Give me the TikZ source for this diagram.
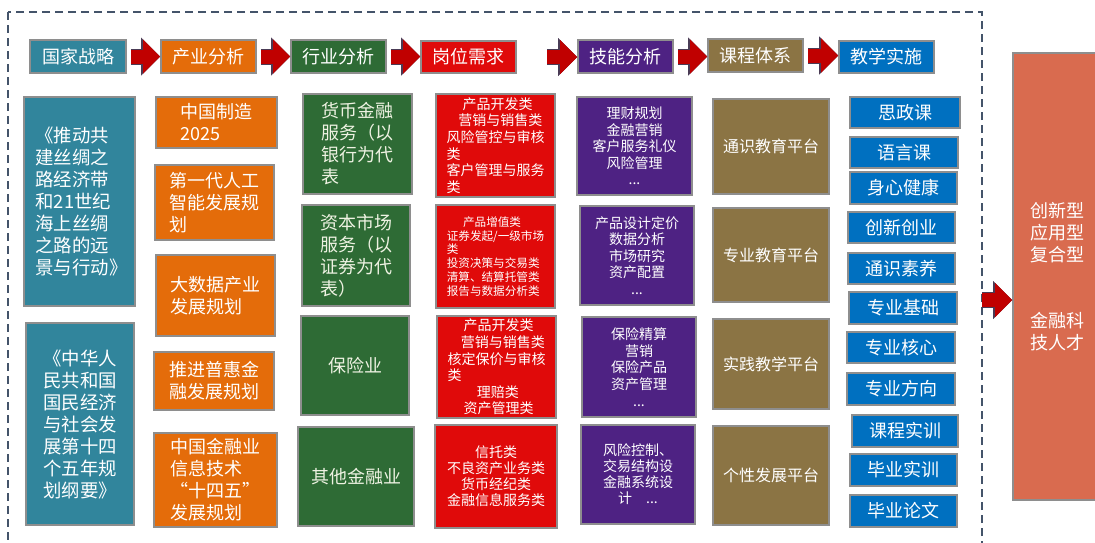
\documentclass[tikz,border=0pt]{standalone}
\usepackage{fontspec}
\setmainfont{Noto Sans CJK SC}
\usepackage{xcolor}
\usetikzlibrary{arrows.meta}

\definecolor{strategyteal}{HTML}{31859C}
\definecolor{industryorange}{HTML}{E46C0A}
\definecolor{sectorgreen}{HTML}{2E6B35}
\definecolor{jobred}{HTML}{E00A0A}
\definecolor{skillpurple}{HTML}{4E2283}
\definecolor{coursebrown}{HTML}{8B7444}
\definecolor{teachblue}{HTML}{0070C0}
\definecolor{talentsalmon}{HTML}{D96B4F}
\definecolor{flowred}{HTML}{C00000}
\definecolor{flowedge}{HTML}{4A3B55}
\definecolor{framenavy}{HTML}{44546A}
\definecolor{cellgray}{HTML}{8E8E8E}
\definecolor{cream}{HTML}{EEF2E2}

\tikzset{
  cell/.style={draw=cellgray, line width=1pt, inner sep=0pt, text=white, align=center,
    font=\fontsize{9}{11}\selectfont},
  small/.style={font=\fontsize{7}{8.3}\selectfont},
  % box given by its corners, in picture units
  span/.code args={#1,#2,#3,#4}{%
    \pgfmathsetmacro\spanw{(#3-#1)*0.5}%
    \pgfmathsetmacro\spanh{(#4-#2)*0.5}%
    \edef\spannext{\noexpand\pgfkeysalso{minimum width=\spanw pt, minimum height=\spanh pt}}%
    \spannext
    \pgfkeysalso{at={({(#1+#3)/2},{(#2+#4)/2})}}},
  flow/.style={flowred, line width=7pt,
    -{Triangle[length=8.5pt,width=17pt,line width=0.01pt]},
    preaction={draw=flowedge, line width=8pt, -{Triangle[length=9.5pt,width=19pt,line width=0.01pt]}}}
}

\begin{document}
\begin{tikzpicture}[x=0.5pt,y=-0.5pt]
\useasboundingbox (0,0) rectangle (1095,542);
\clip (0,0) rectangle (1095,542);
% outer dashed frame
\draw[framenavy, line width=0.75pt, dash pattern=on 4pt off 2.5pt] (8,12) rectangle (982,580);
\coordinate (frameR) at (982,300);

% header row
\node[cell, fill=strategyteal, span={30,40,126,73}] (hStrategy) {国家战略};
\node[cell, fill=industryorange, span={161,40,256,73}] (hIndustry) {产业分析};
\node[cell, fill=sectorgreen, span={291,40,386,73}] (hSector) {行业分析};
\node[cell, fill=jobred, span={421,41,516,73}] (hJob) {岗位需求};
\node[cell, fill=skillpurple, span={578,40,673,73}] (hSkill) {技能分析};
\node[cell, fill=coursebrown, span={708,39,803,72}] (hCourse) {课程体系};
\node[cell, fill=teachblue, span={839,41,934,73}] (hTeach) {教学实施};

\draw[flow, shorten <=2pt] (hStrategy.east) -- (hStrategy.east -| hIndustry.west);
\draw[flow, shorten <=2pt] (hIndustry.east) -- (hIndustry.east -| hSector.west);
\draw[flow, shorten <=2pt] (hSector.east) -- (hSector.east -| hJob.west);
\draw[flow, shorten <=15pt] (hJob.east) -- (hJob.east -| hSkill.west);
\draw[flow, shorten <=2pt] (hSkill.east) -- (hSkill.east -| hCourse.west);
\draw[flow, shorten <=2pt] (hCourse.east) -- (hCourse.east -| hTeach.west);

% national strategy
\node[cell, fill=strategyteal, align=left, text width=44pt, font=\fontsize{9.2}{11}\selectfont,
  span={24,97,135,306}] (s1) {《推动共\\建丝绸之\\路经济带\\和21世纪\\海上丝绸\\之路的远\\景与行动》};
\node[cell, fill=strategyteal, align=left, font=\fontsize{9.2}{11}\selectfont,
  span={26,323,134,525}] (s2) {《中华人\\民共和国\\国民经济\\与社会发\\展第十四\\个五年规\\划纲要》};

% industry plans
\node[cell, fill=industryorange, align=left, span={156,97,277,148}] (i1) {中国制造\\2025};
\node[cell, fill=industryorange, align=left, span={155,165,274,240}] (i2) {第一代人工\\智能发展规\\划};
\node[cell, fill=industryorange, align=left, span={156,255,275,336}] (i3) {大数据产业\\发展规划};
\node[cell, fill=industryorange, align=left, span={154,352,274,410}] (i4) {推进普惠金\\融发展规划};
\node[cell, fill=industryorange, align=left, span={154,433,277,527}] (i5)
  {中国金融业\\信息技术\\\makebox[1em][r]{“}十四五\makebox[1em][l]{”}\\发展规划};

% sectors
\node[cell, fill=sectorgreen, text=cream, align=left, span={303,94,412,194}] (c1) {货币金融\\服务（以\\银行为代\\表};
\node[cell, fill=sectorgreen, text=cream, align=left, span={302,205,410,306}] (c2) {资本市场\\服务（以\\证券为代\\表）};
\node[cell, fill=sectorgreen, text=cream, span={301,316,409,415}] (c3) {保险业};
\node[cell, fill=sectorgreen, text=cream, span={298,427,414,526}] (c4) {其他金融业};

% job requirements
\node[cell, small, fill=jobred, align=left, span={436,94,555,197}] (j1)
  {\hspace*{1.15em}产品开发类\\\hspace*{0.85em}营销与销售类\\风险管控与审核\\类\\客户管理与服务\\类};
\node[cell, fill=jobred, align=left, font=\fontsize{5.8}{6.9}\selectfont, span={436,205,555,308}] (j2)
  {\hspace*{1.4em}产品增值类\\证券发起/一级市场\\类\\投资决策与交易类\\清算、结算托管类\\报告与数据分析类};
\node[cell, small, fill=jobred, align=left, span={437,316,556,418}] (j3)
  {\hspace*{1.15em}产品开发类\\\hspace*{0.95em}营销与销售类\\核定保价与审核\\类\\\hspace*{2.1em}理赔类\\\hspace*{1.15em}资产管理类};
\node[cell, fill=jobred, font=\fontsize{7}{8}\selectfont, span={435,425,557,528}] (j4)
  {信托类\\不良资产业务类\\货币经纪类\\金融信息服务类};

% skills
\node[cell, small, fill=skillpurple, span={577,97,692,195}] (k1) {理财规划\\金融营销\\客户服务礼仪\\风险管理\\...};
\node[cell, small, fill=skillpurple, span={580,206,694,305}] (k2) {产品设计定价\\数据分析\\市场研究\\资产配置\\...};
\node[cell, small, fill=skillpurple, span={582,317,696,417}] (k3) {保险精算\\营销\\保险产品\\资产管理\\...};
\node[cell, fill=skillpurple, font=\fontsize{7}{8}\selectfont, span={581,425,695,524}] (k4)
  {风险控制、\\交易结构设\\金融系统设\\计\quad ...};

% course platforms
\node[cell, fill=coursebrown, font=\fontsize{8}{10}\selectfont, span={713,99,829,194}] (p1) {通识教育平台};
\node[cell, fill=coursebrown, font=\fontsize{8}{10}\selectfont, span={713,208,829,302}] (p2) {专业教育平台};
\node[cell, fill=coursebrown, font=\fontsize{8}{10}\selectfont, span={713,319,829,409}] (p3) {实践教学平台};
\node[cell, fill=coursebrown, font=\fontsize{8}{10}\selectfont, span={713,426,829,525}] (p4) {个性发展平台};

% teaching
\node[cell, fill=teachblue, span={850,97,960,128}] (t1) {思政课};
\node[cell, fill=teachblue, span={850,137,958,168}] (t2) {语言课};
\node[cell, fill=teachblue, span={850,172,957,204}] (t3) {身心健康};
\node[cell, fill=teachblue, span={848,212,955,243}] (t4) {创新创业};
\node[cell, fill=teachblue, span={848,253,955,284}] (t5) {通识素养};
\node[cell, fill=teachblue, span={849,292,957,324}] (t6) {专业基础};
\node[cell, fill=teachblue, span={847,332,955,363}] (t7) {专业核心};
\node[cell, fill=teachblue, span={847,373,955,405}] (t8) {专业方向};
\node[cell, fill=teachblue, span={852,415,958,447}] (t9) {课程实训};
\node[cell, fill=teachblue, span={850,454,957,486}] (t10) {毕业实训};
\node[cell, fill=teachblue, span={850,495,957,527}] (t11) {毕业论文};

% talent
\node[cell, fill=talentsalmon, align=left, span={1013,53,1102,500}] (talent)
  {创新型\\应用型\\复合型\\[22pt]金融科\\技人才};
\draw[flow] (frameR) -- (frameR -| talent.west);
\end{tikzpicture}
\end{document}
